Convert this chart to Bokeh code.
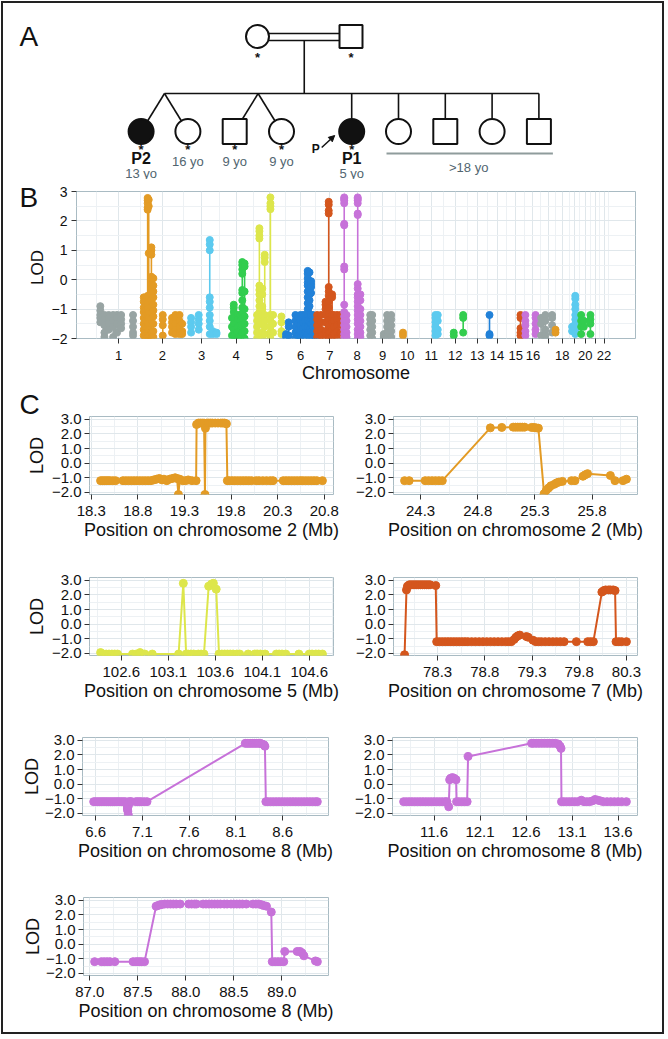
import numpy as np
from bokeh.plotting import figure
from bokeh.models import Range1d, FixedTicker, Arrow, NormalHead
from bokeh.layouts import column, row
from bokeh.embed import file_html
from bokeh.resources import INLINE
from bokeh.core.properties import value

FONT = "Liberation Sans"
INK = "#111111"
AGE_INK = "#51656f"
GRID_MAJOR = "#e0e7eb"
GRID_MINOR = "#edf1f4"
FRAME = "#a9bbc3"

# ---------------- Panel A: pedigree ----------------
parent_sex = ["F", "M"]
parent_genotyped = [1, 1]
child_sex = ["F", "F", "M", "F", "F", "F", "M", "F", "M"]
child_affected = [1, 0, 0, 0, 1, 0, 0, 0, 0]
child_genotyped = [1, 1, 1, 1, 1, 0, 0, 0, 0]
child_id = ["P2", "", "", "", "P1", "", "", "", ""]
child_age = ["13 yo", "16 yo", "9 yo", "9 yo", "5 yo", "", "", "", ""]
child_slot = [0, 1, 2, 3, 4.5, 5.5, 6.5, 7.5, 8.5]
twin_pairs = [(0, 1), (2, 3)]
proband = 4
adult_children = [5, 6, 7, 8]
adult_label = ">18 yo"

# ---------------- Panel B: genome-wide LOD ----------------
chrom_len_mb = [249.25, 243.2, 198.0, 191.15, 180.9, 171.1, 159.1, 146.4, 141.2, 135.5, 135.0,
                133.85, 115.2, 107.35, 102.5, 90.35, 81.2, 78.1, 59.1, 63.0, 48.1, 51.3]
chrom_tick_labels = ["1", "2", "3", "4", "5", "6", "7", "8", "9", "10", "11", "12", "13", "14",
                     "15", "16", "", "18", "", "20", "", "22"]
chrom_palette = ["#98a4a3", "#e39b25", "#5ccaef", "#32cd4f", "#dde64b", "#2181d8", "#d4561d", "#c772d9"]

scan_chr1 = [(22, [-0.9, -1.05, -1.2, -1.3, -1.45]), (45, [-1.2, -1.35, -1.55, -1.8, -1.95]),
             (69, [-1.2, -1.3, -1.5, -1.7]), (94, [-1.2, -1.4, -1.6, -1.95]),
             (116, [-1.2, -1.3, -1.5, -1.8]), (139, [-1.2, -1.35, -1.5, -1.65]),
             (206, [-1.2, -1.4, -1.6, -1.8, -1.9])]
scan_chr2 = [(17, [-0.6, -0.75, -0.95, -1.1, -1.3, -1.5, -1.7, -1.9]),
             (28, [-0.9, -1.05, -1.2, -1.4, -1.6, -1.8, -2.0]),
             (39, [2.78, 2.7, 2.6, 2.45, 2.38, -0.55, -0.8, -1.0, -1.2, -1.4, -1.6, -1.8, -2.0]),
             (45, [2.72, 2.5, 0.9, -1.1, -1.3, -1.5, -1.7, -1.9]),
             (60, [1.1, 1.0, 0.85, 0.1, 0.0, -0.15, -0.3, -0.5, -0.7, -0.9, -1.1, -1.3, -1.5, -1.8, -2.0]),
             (71, [0.05, -0.2, -0.4, -0.6, -0.85, -1.05, -1.25, -1.5, -1.75, -1.95]),
             (124, [-1.2, -1.35, -1.55, -1.9]), (176, [-1.3, -1.45, -1.6, -1.8]),
             (195, [-1.2, -1.35, -1.5, -1.7, -1.85]), (218, [-1.2, -1.4, -1.6, -1.85]),
             (233, [-1.5, -1.75, -1.85])]
scan_chr3 = [(40, [-1.3, -1.45, -1.6, -1.8]), (83, [-1.2, -1.35, -1.5, -1.7]),
             (145, [1.35, 1.2, 1.0, -0.6, -0.75, -0.95, -1.2, -1.4, -1.6, -1.85]),
             (162, [-1.75, -1.85]), (183, [-1.8, -1.85])]
scan_chr4 = [(72, [-1.3, -1.6, -1.9]), (82, [-0.85, -0.95, -1.1, -1.3, -1.5, -1.7, -1.9]),
             (104, [-1.2, -1.35, -1.6, -1.8, -2.0]), (119, [-1.2, -1.4, -1.55, -1.75, -1.95]),
             (130, [0.6, 0.5, 0.35, 0.2, -0.35, -0.45, -0.7, -0.95, -1.15, -1.3, -1.55, -1.8]),
             (143, [0.55, 0.45, -0.4, -1.0, -1.25, -1.5, -1.75, -2.0])]
scan_chr5 = [(22, [-1.2, -1.4, -1.6, -1.8, -2.0]),
             (35, [1.75, 1.65, 1.5, 1.4, -0.2, -0.35, -0.5, -0.7, -0.9, -1.1, -1.3]),
             (51, [-0.3, -0.5, -0.9, -1.0, -1.2, -1.5, -1.8, -2.0]),
             (65, [0.85, 0.75, 0.6, -1.2, -1.4, -1.6, -1.85]),
             (97, [2.8, 2.6, 2.5, 2.4, -1.2, -1.4, -1.6, -1.8, -2.0]),
             (112, [-1.2, -1.5, -1.8]), (159, [-1.25, -1.45, -1.75, -1.85])]
scan_chr6 = [(4, [-1.85, -1.95]), (19, [-1.45, -1.6, -1.9]), (57, [-1.2, -1.4, -1.6, -1.8, -2.0]),
             (72, [-1.25, -1.5, -1.7, -1.9]), (85, [-1.2, -1.35, -1.55, -1.75, -1.95]),
             (100, [-1.2, -1.45, -1.65, -1.85]), (113, [-1.2, -1.4, -1.6, -1.8, -2.0]),
             (126, [0.3, 0.2, 0.05, -0.1, -0.2, -0.4, -0.6, -0.8, -1.0, -1.2, -1.4, -1.6, -1.85]),
             (136, [0.25, -0.05, -0.15, -0.3, -0.5, -0.7, -0.9, -1.2, -1.45, -1.7, -1.95]),
             (145, [-0.05, -0.15, -0.25, -0.45, -1.2, -1.5, -1.75]),
             (156, [-1.2, -1.4, -1.6, -1.8, -2.0]), (168, [-1.25, -1.5, -1.75, -1.95])]
scan_chr7 = [(8, [-1.2, -1.35, -1.55, -1.75, -1.95]), (30, [-1.2, -1.45, -1.7, -1.9]),
             (55, [-0.75, -0.85, -1.0, -1.2, -1.45, -1.75, -2.0]),
             (73, [2.65, 2.55, 2.35, 2.25, -0.25, -0.4, -0.55, -0.75, -0.95, -1.15, -1.35, -1.55, -1.8, -2.0]),
             (92, [-0.5, -0.6, -1.2, -1.45, -1.7, -1.95]), (101, [-1.2, -1.4, -1.6, -1.85]),
             (120, [-1.2, -1.35, -1.55, -1.75, -2.0]), (139, [-1.2, -1.5, -1.8])]
scan_chr8 = [(1, [2.8, 2.75, 2.7, 2.6, 1.9, 1.85, 0.45, 0.35, -0.85, -1.1, -1.25, -1.4, -1.55, -1.7, -1.85, -2.0]),
             (14, [-1.2, -1.4, -1.6, -1.8, -1.95]),
             (77, [2.8, 2.75, 2.7, 2.6, 2.25, 2.2, -0.15, -0.3, -0.5, -0.6, -0.75, -0.9, -1.05, -1.2, -1.35, -1.5, -1.7, -1.85, -2.0]),
             (92, [-0.5, -0.7, -1.0, -1.2, -1.4, -1.6, -1.8, -1.95])]
scan_chr9 = [(1, [-1.2, -1.35, -1.5, -1.7, -1.9]), (12, [-1.2, -1.4, -1.6, -1.8, -2.0]),
             (77, [-1.85, -1.95]), (96, [-1.2, -1.4, -1.6, -1.8, -1.95]),
             (119, [-1.2, -1.35, -1.55, -1.75, -1.95])]
scan_chr10 = [(44, [-1.8, -1.9])]
scan_chr11 = [(91, [-1.2, -1.3, -1.45, -1.6, -1.75, -1.9]), (104, [-1.2, -1.4, -1.7, -1.85])]
scan_chr12 = [(59, [-1.8, -1.9]), (112, [-1.2, -1.3, -1.8])]
scan_chr13 = []
scan_chr14 = [(11, [-1.2, -1.85, -1.9])]
scan_chr15 = [(78, [-1.2, -1.3, -1.65, -1.8, -1.9])]
scan_chr16 = [(3, [-1.2, -1.4, -1.55, -1.75, -1.9]), (60, [-1.2, -1.3, -1.5, -1.7, -1.85])]
scan_chr17 = [(1, [-1.3, -1.5, -1.9]), (25, [-1.2, -1.4, -1.7, -1.9]), (63, [-1.2, -1.3, -1.55, -1.8])]
scan_chr18 = [(1, [-1.7, -1.8])]
scan_chr19 = [(16, [-1.6, -1.75]), (34, [-0.55, -0.65, -0.85, -1.0, -1.2, -1.35, -1.5, -1.7, -1.85])]
scan_chr20 = [(8, [-1.2, -1.4, -1.6, -1.85]), (23, [-1.4, -1.6]), (60, [-1.2, -1.35, -1.5, -1.85])]
scan_chr21 = []
scan_chr22 = []
genome_scan = [scan_chr1, scan_chr2, scan_chr3, scan_chr4, scan_chr5, scan_chr6, scan_chr7, scan_chr8,
               scan_chr9, scan_chr10, scan_chr11, scan_chr12, scan_chr13, scan_chr14, scan_chr15,
               scan_chr16, scan_chr17, scan_chr18, scan_chr19, scan_chr20, scan_chr21, scan_chr22]

# ---------------- Panel C: regional LOD ----------------
lod_ticks = [-2, -1, 0, 1, 2, 3]

c1_chrom, c1_ticks = 2, [18.3, 18.8, 19.3, 19.8, 20.3, 20.8]
c1_pts = [(18.40, -1.2), (18.42, -1.2), (18.44, -1.2), (18.46, -1.2), (18.48, -1.2), (18.50, -1.2),
          (18.53, -1.2), (18.56, -1.2), (18.64, -1.2), (18.67, -1.2), (18.70, -1.2), (18.73, -1.2),
          (18.76, -1.2), (18.79, -1.2), (18.82, -1.2), (18.85, -1.2), (18.88, -1.2), (18.91, -1.2),
          (18.94, -1.2), (18.97, -1.15), (19.00, -1.1), (19.03, -1.05), (19.06, -1.15), (19.08, -1.1),
          (19.11, -1.2), (19.14, -1.1), (19.17, -1.05), (19.20, -1.0), (19.22, -1.05), (19.235, -2.15),
          (19.25, -1.1), (19.28, -1.2), (19.31, -1.2), (19.34, -1.15), (19.38, -1.2), (19.425, -1.2),
          (19.43, 2.65), (19.45, 2.75), (19.47, 2.75), (19.49, 2.75), (19.51, 2.75), (19.52, -2.15),
          (19.525, 2.4), (19.54, 2.75), (19.56, 2.75), (19.58, 2.75), (19.60, 2.75), (19.63, 2.75),
          (19.66, 2.75), (19.69, 2.75), (19.71, 2.75), (19.73, 2.75), (19.75, 2.7), (19.76, -1.2),
          (19.78, -1.2), (19.81, -1.2), (19.84, -1.2), (19.87, -1.2), (19.90, -1.2), (19.93, -1.2),
          (19.96, -1.2), (19.99, -1.2), (20.02, -1.2), (20.07, -1.2), (20.10, -1.2), (20.14, -1.2),
          (20.18, -1.2), (20.22, -1.2), (20.25, -1.2), (20.36, -1.2), (20.39, -1.2), (20.42, -1.2),
          (20.45, -1.2), (20.48, -1.2), (20.51, -1.2), (20.54, -1.2), (20.57, -1.2), (20.60, -1.2),
          (20.63, -1.2), (20.66, -1.2), (20.69, -1.2), (20.72, -1.2), (20.78, -1.2)]

c2_chrom, c2_ticks = 2, [24.3, 24.8, 25.3, 25.8]
c2_pts = [(24.16, -1.2), (24.20, -1.2), (24.34, -1.2), (24.37, -1.2), (24.40, -1.2), (24.43, -1.2),
          (24.46, -1.2), (24.49, -1.2), (24.91, 2.42), (25.01, 2.45), (25.11, 2.47), (25.13, 2.47),
          (25.15, 2.47), (25.17, 2.47), (25.19, 2.47), (25.21, 2.47), (25.27, 2.45), (25.29, 2.45),
          (25.31, 2.42), (25.33, 2.4), (25.38, -2.1), (25.40, -1.85), (25.42, -1.7), (25.44, -1.55),
          (25.47, -1.45), (25.49, -1.35), (25.51, -1.3), (25.54, -1.25), (25.62, -1.2), (25.65, -1.2),
          (25.72, -0.9), (25.74, -0.8), (25.76, -0.72), (25.96, -0.85), (26.00, -1.2), (26.07, -1.2),
          (26.10, -1.1)]

c3_chrom, c3_ticks = 5, [102.6, 103.1, 103.6, 104.1, 104.6]
c3_pts = [(102.38, -1.95), (102.41, -2.05), (102.44, -2.05), (102.47, -2.05), (102.50, -2.05),
          (102.53, -2.05), (102.56, -2.05), (102.72, -2.05), (102.76, -2.05), (102.80, -1.95),
          (102.85, -2.05), (102.93, -2.05), (103.21, -2.05), (103.26, 2.8), (103.29, -2.05),
          (103.31, -2.05), (103.34, -2.05), (103.37, -2.05), (103.42, -2.05), (103.45, -2.05),
          (103.48, -2.05), (103.53, 2.6), (103.56, 2.75), (103.58, 2.8), (103.61, 2.4), (103.64, -2.05),
          (103.67, -2.05), (103.70, -2.05), (103.73, -2.05), (103.76, -2.05), (103.79, -2.05),
          (103.83, -2.05), (103.86, -2.05), (103.95, -2.05), (104.02, -2.05), (104.05, -2.05),
          (104.08, -2.05), (104.13, -2.05), (104.25, -2.05), (104.28, -2.05), (104.31, -2.05),
          (104.35, -2.05), (104.49, -2.05), (104.60, -2.05), (104.63, -2.05), (104.67, -2.05),
          (104.70, -2.05), (104.74, -2.05)]

c4_chrom, c4_ticks = 7, [78.3, 78.8, 79.3, 79.8, 80.3]
c4_pts = [(77.95, -2.1), (77.97, 2.35), (77.98, 2.6), (78.00, 2.7), (78.02, 2.7), (78.04, 2.7),
          (78.06, 2.7), (78.08, 2.7), (78.10, 2.7), (78.12, 2.7), (78.14, 2.7), (78.16, 2.7),
          (78.18, 2.7), (78.20, 2.7), (78.22, 2.7), (78.28, 2.65), (78.29, -1.2), (78.32, -1.2),
          (78.35, -1.2), (78.38, -1.2), (78.41, -1.2), (78.44, -1.2), (78.47, -1.2), (78.50, -1.2),
          (78.53, -1.2), (78.56, -1.2), (78.59, -1.2), (78.62, -1.2), (78.66, -1.2), (78.70, -1.2),
          (78.74, -1.2), (78.78, -1.2), (78.82, -1.2), (78.86, -1.2), (78.90, -1.2), (78.94, -1.2),
          (78.98, -1.2), (79.02, -1.2), (79.05, -1.2), (79.08, -1.2), (79.11, -1.05), (79.13, -0.9),
          (79.15, -0.8), (79.17, -0.75), (79.24, -0.85), (79.26, -0.9), (79.31, -1.1), (79.34, -1.2),
          (79.37, -1.2), (79.40, -1.2), (79.44, -1.2), (79.48, -1.2), (79.52, -1.2), (79.56, -1.2),
          (79.60, -1.2), (79.64, -1.2), (79.77, -1.2), (79.89, -1.2), (79.92, -1.2), (79.95, -1.2),
          (80.04, 2.2), (80.06, 2.3), (80.08, 2.35), (80.11, 2.35), (80.13, 2.35), (80.16, 2.35),
          (80.18, 2.3), (80.19, -1.2), (80.22, -1.2), (80.25, -1.2), (80.30, -1.2)]

c5_chrom, c5_ticks = 8, [6.6, 7.1, 7.6, 8.1, 8.6]
c5_pts = [(6.58, -1.2), (6.60, -1.2), (6.62, -1.2), (6.64, -1.2), (6.66, -1.2), (6.68, -1.2),
          (6.70, -1.2), (6.72, -1.2), (6.74, -1.2), (6.76, -1.2), (6.78, -1.2), (6.80, -1.2),
          (6.82, -1.2), (6.84, -1.2), (6.86, -1.2), (6.88, -1.2), (6.90, -1.2), (6.92, -1.2),
          (6.94, -1.4), (6.94, -1.55), (6.94, -1.7), (6.945, -1.85), (6.95, -2.1), (6.95, -1.5),
          (6.96, -1.2), (6.98, -1.2), (7.03, -1.2), (7.05, -1.2), (7.07, -1.2), (7.09, -1.2),
          (7.12, -1.2), (7.15, -1.2), (8.20, 2.8), (8.22, 2.8), (8.24, 2.8), (8.26, 2.8), (8.28, 2.8),
          (8.30, 2.8), (8.32, 2.8), (8.34, 2.8), (8.36, 2.8), (8.38, 2.75), (8.40, 2.7), (8.41, 2.6),
          (8.42, -1.2), (8.44, -1.2), (8.47, -1.2), (8.50, -1.2), (8.53, -1.2), (8.56, -1.2),
          (8.59, -1.2), (8.62, -1.2), (8.65, -1.2), (8.68, -1.2), (8.71, -1.2), (8.74, -1.2),
          (8.77, -1.2), (8.80, -1.2), (8.83, -1.2), (8.86, -1.2), (8.89, -1.2), (8.92, -1.2),
          (8.95, -1.2), (8.97, -1.2)]

c6_chrom, c6_ticks = 8, [11.6, 12.1, 12.6, 13.1, 13.6]
c6_pts = [(11.27, -1.2), (11.30, -1.2), (11.33, -1.2), (11.36, -1.2), (11.39, -1.2), (11.42, -1.2),
          (11.45, -1.2), (11.48, -1.2), (11.51, -1.2), (11.54, -1.2), (11.57, -1.2), (11.60, -1.2),
          (11.63, -1.2), (11.66, -1.2), (11.69, -1.2), (11.72, -1.2), (11.74, -1.2), (11.76, -1.55),
          (11.77, 0.3), (11.78, 0.4), (11.80, 0.45), (11.82, 0.4), (11.84, 0.3), (11.845, -1.2),
          (11.87, -1.2), (11.90, -1.2), (11.93, -1.2), (11.96, -1.2), (11.97, 1.9), (12.66, 2.8),
          (12.68, 2.8), (12.71, 2.8), (12.74, 2.8), (12.77, 2.8), (12.80, 2.8), (12.83, 2.8),
          (12.86, 2.8), (12.89, 2.8), (12.92, 2.8), (12.95, 2.75), (12.97, 2.6), (12.98, 2.45),
          (12.985, -1.2), (13.01, -1.2), (13.04, -1.2), (13.07, -1.2), (13.10, -1.2), (13.13, -1.2),
          (13.16, -1.2), (13.20, -1.1), (13.23, -1.2), (13.26, -1.2), (13.29, -1.2), (13.32, -1.15),
          (13.35, -1.05), (13.38, -1.1), (13.41, -1.15), (13.44, -1.2), (13.48, -1.2), (13.52, -1.2),
          (13.56, -1.2), (13.60, -1.2), (13.64, -1.2), (13.69, -1.2)]

c7_chrom, c7_ticks = 8, [87.0, 87.5, 88.0, 88.5, 89.0]
c7_pts = [(87.05, -1.2), (87.12, -1.2), (87.15, -1.2), (87.18, -1.2), (87.21, -1.2), (87.26, -1.2),
          (87.45, -1.2), (87.48, -1.2), (87.50, -1.2), (87.52, -1.2), (87.54, -1.2), (87.57, -1.2),
          (87.69, 2.6), (87.71, 2.65), (87.73, 2.7), (87.75, 2.72), (87.78, 2.75), (87.81, 2.75),
          (87.84, 2.75), (87.87, 2.75), (87.90, 2.75), (87.94, 2.75), (88.03, 2.75), (88.06, 2.75),
          (88.09, 2.75), (88.11, 2.75), (88.18, 2.75), (88.21, 2.75), (88.24, 2.75), (88.27, 2.75),
          (88.30, 2.75), (88.33, 2.75), (88.36, 2.75), (88.40, 2.75), (88.43, 2.75), (88.47, 2.75),
          (88.50, 2.75), (88.53, 2.75), (88.56, 2.75), (88.59, 2.75), (88.63, 2.75), (88.70, 2.75),
          (88.73, 2.75), (88.76, 2.75), (88.79, 2.7), (88.81, 2.65), (88.84, 2.6), (88.89, 2.2),
          (88.90, -1.2), (88.93, -1.2), (88.96, -1.2), (88.99, -1.2), (89.02, -1.2), (89.03, -0.5),
          (89.16, -0.5), (89.19, -0.5), (89.21, -0.6), (89.23, -0.8), (89.35, -1.15), (89.37, -1.2)]

C_COLORS = {"orange": chrom_palette[1], "yellow": chrom_palette[4], "rust": chrom_palette[6],
            "purple": chrom_palette[7]}


def neg(s):
    return s.replace("-", "\u2212")


def style_axes(p, tick_fs, label_fs):
    for ax in p.axis:
        ax.axis_line_color = None
        ax.major_tick_line_color = "#333333"
        ax.major_tick_line_width = 1
        ax.major_tick_out = 5
        ax.major_tick_in = 0
        ax.minor_tick_line_color = None
        ax.major_label_text_font = FONT
        ax.major_label_text_font_size = tick_fs
        ax.major_label_text_color = INK
        ax.axis_label_text_font = FONT
        ax.axis_label_text_font_size = label_fs
        ax.axis_label_text_font_style = "normal"
        ax.axis_label_text_color = INK
    p.xgrid.grid_line_color = GRID_MAJOR
    p.ygrid.grid_line_color = GRID_MAJOR
    p.xgrid.minor_grid_line_color = GRID_MINOR
    p.ygrid.minor_grid_line_color = GRID_MINOR
    p.outline_line_color = FRAME
    p.outline_line_width = 1


def strip(width, height, top, letter, letter_x, letter_base, lod_x, lod_y, lod_fs):
    """Blank margin canvas (pixel coordinates) holding a panel letter and the rotated LOD title."""
    s = figure(width=width, height=height, x_range=Range1d(3, 3 + width), y_range=Range1d(0, height),
               toolbar_location=None, output_backend="svg", min_border=0,
               x_axis_location=None, y_axis_location=None)
    s.grid.visible = False
    s.outline_line_color = None
    s.text(x=[letter_x], y=[top + height - letter_base], text=[letter], text_font=value(FONT),
           text_font_size="28px", text_align="left", text_baseline="alphabetic", text_color=INK)
    s.text(x=[lod_x], y=[top + height - lod_y], text=["LOD"], angle=np.pi / 2, text_font=value(FONT),
           text_font_size=lod_fs, text_align="center", text_baseline="middle", text_color=INK)
    return column(s)


W_TOTAL = 659
W_LEFT = 337
W_RIGHT = W_TOTAL - W_LEFT
STRIP_W = 44
A_BOTTOM = 179

# ---------------- build panel A ----------------
SIB_X0, SIB_DX = 140.6, 46.8
PAR_Y, SIB_Y, CHILD_Y = 36, 93, 131
pa = figure(width=W_TOTAL, height=A_BOTTOM - 3, x_range=Range1d(3, 3 + W_TOTAL),
            y_range=Range1d(A_BOTTOM, 3), toolbar_location=None, output_backend="svg", min_border=0,
            x_axis_location=None, y_axis_location=None)
pa.grid.visible = False
pa.outline_line_color = None

par_x = [257.0, 350.5]
mate_mid = sum(par_x) / 2
pa.multi_line(xs=[[par_x[0] + 11.5, par_x[1] - 11.5], [par_x[0] + 11.5, par_x[1] - 11.5]],
              ys=[[PAR_Y - 3, PAR_Y - 3], [PAR_Y + 4, PAR_Y + 4]], line_color=INK, line_width=1.6)
pa.line(x=[mate_mid, mate_mid], y=[PAR_Y + 4, SIB_Y], line_color=INK, line_width=1.6)

cx = [SIB_X0 + SIB_DX * s for s in child_slot]
drop_xs, drop_ys = [], []
twinned = set()
tops = []
for a, b in twin_pairs:
    apex = (cx[a] + cx[b]) / 2
    tops.append(apex)
    for k in (a, b):
        drop_xs.append([apex, cx[k]])
        drop_ys.append([SIB_Y, CHILD_Y])
        twinned.add(k)
for k in range(len(cx)):
    if k not in twinned:
        tops.append(cx[k])
        drop_xs.append([cx[k], cx[k]])
        drop_ys.append([SIB_Y, CHILD_Y])
pa.line(x=[min(tops), max(tops)], y=[SIB_Y, SIB_Y], line_color=INK, line_width=1.6)
pa.multi_line(xs=drop_xs, ys=drop_ys, line_color=INK, line_width=1.6)

for x, s in zip(par_x, parent_sex):
    if s == "F":
        pa.ellipse(x=[x], y=[PAR_Y], width=23, height=23, fill_color="white", line_color=INK, line_width=2)
    else:
        pa.rect(x=[x], y=[PAR_Y], width=23, height=23, fill_color="white", line_color=INK, line_width=2)
pa.text(x=[x for x, g in zip(par_x, parent_genotyped) if g], y=[57] * sum(parent_genotyped),
        text=["*"] * sum(parent_genotyped), text_font=value(FONT), text_font_style="bold",
        text_font_size="13px", text_align="center", text_baseline="alphabetic", text_color=INK)

for k, (x, s, aff) in enumerate(zip(cx, child_sex, child_affected)):
    fill = INK if aff else "white"
    if s == "F":
        pa.ellipse(x=[x], y=[CHILD_Y], width=25, height=25, fill_color=fill, line_color=INK, line_width=2)
    else:
        pa.rect(x=[x], y=[CHILD_Y], width=24, height=25, fill_color=fill, line_color=INK, line_width=2)

gx = [x for x, g in zip(cx, child_genotyped) if g]
pa.text(x=gx, y=[148.5] * len(gx), text=["*"] * len(gx), text_font=value(FONT), text_font_style="bold",
        text_font_size="13px", text_align="center", text_baseline="alphabetic", text_color=INK)
idx = [k for k in range(len(cx)) if child_id[k]]
pa.text(x=[cx[k] for k in idx], y=[158] * len(idx), text=[child_id[k] for k in idx],
        text_font=value(FONT), text_font_style="bold", text_font_size="16px", text_align="center",
        text_baseline="middle", text_color=INK)
pa.text(x=[cx[k] for k in idx], y=[172.5] * len(idx), text=[child_age[k] for k in idx],
        text_font=value(FONT), text_font_size="13px", text_align="center", text_baseline="middle",
        text_color=AGE_INK)
oth = [k for k in range(len(cx)) if child_age[k] and not child_id[k]]
pa.text(x=[cx[k] for k in oth], y=[161] * len(oth), text=[child_age[k] for k in oth],
        text_font=value(FONT), text_font_size="13px", text_align="center", text_baseline="middle",
        text_color=AGE_INK)
ax0, ax1 = cx[adult_children[0]] - 12, cx[adult_children[-1]] + 14
pa.line(x=[ax0, ax1], y=[153, 153], line_color="#8f9c9c", line_width=2)
pa.text(x=[sum(cx[k] for k in adult_children) / len(adult_children)], y=[167], text=[adult_label],
        text_font=value(FONT), text_font_size="13px", text_align="center", text_baseline="middle",
        text_color=AGE_INK)
px_ = cx[proband]
pa.text(x=[px_ - 36], y=[148], text=["P"], text_font=value(FONT), text_font_style="bold",
        text_font_size="12px", text_align="center", text_baseline="alphabetic", text_color=INK)
pa.add_layout(Arrow(end=NormalHead(size=6, fill_color=INK, line_color=INK), x_start=px_ - 30,
                    y_start=147, x_end=px_ - 17, y_end=135, line_color=INK, line_width=1.5))
pa.text(x=[19], y=[36], text=["A"], text_font=value(FONT), text_font_size="28px",
        text_align="left", text_baseline="alphabetic", text_color=INK)

# ---------------- build panel B ----------------
chrom_start = np.concatenate([[0.0], np.cumsum(chrom_len_mb)[:-1]])
chrom_mid = chrom_start + np.array(chrom_len_mb) / 2.0
genome_total = float(np.sum(chrom_len_mb))

B_X0, B_X1 = -112.0, 3032.0
B_BL, B_BR = 73 - STRIP_W, 27
B_H = 385 - A_BOTTOM
pb = figure(width=W_TOTAL - STRIP_W, height=B_H, x_range=Range1d(B_X0, B_X1), y_range=Range1d(-2.0, 3.0),
            toolbar_location=None, output_backend="svg",
            min_border_left=B_BL, min_border_right=B_BR, min_border_top=191 - A_BOTTOM, min_border_bottom=42)
for ci, scan in enumerate(genome_scan):
    color = chrom_palette[ci % len(chrom_palette)]
    sx, sy, px_all, py_all = [], [], [], []
    for mb, lods in scan:
        gx_ = chrom_start[ci] + mb
        sx.append([gx_, gx_])
        sy.append([min(lods), max(lods)])
        px_all += [gx_] * len(lods)
        py_all += list(lods)
    if sx:
        pb.multi_line(xs=sx, ys=sy, line_color=color, line_width=1.6)
        pb.scatter(x=px_all, y=py_all, size=7, fill_color=color, line_color=color)
style_axes(pb, "13px", "17px")
pb.xaxis.ticker = FixedTicker(ticks=[float(m) for m in chrom_mid],
                              minor_ticks=[float(s) for s in chrom_start] + [genome_total])
pb.xaxis.major_label_overrides = {float(m): lab for m, lab in zip(chrom_mid, chrom_tick_labels)}
pb.xaxis.axis_label = "Chromosome"
pb.xaxis.axis_label_text_font_size = "18px"
pb.xaxis.major_label_standoff = 7
pb.xaxis.axis_label_standoff = 0
pb.yaxis.ticker = FixedTicker(ticks=lod_ticks, minor_ticks=[t + 0.5 for t in lod_ticks[:-1]])
pb.yaxis.major_label_overrides = {t: neg(str(t)) for t in lod_ticks}
pb.yaxis.major_label_text_font_size = "14px"
pb.yaxis.major_label_standoff = 4
sb = strip(STRIP_W, B_H, A_BOTTOM, "B", 19, 197, 36.5, 267, "17px")


# ---------------- build panel C ----------------
def c_panel(pts, color, ticks, chrom, width, height, bl, br, bt, bb, ylabel, ylab_standoff):
    xs = [a for a, b in pts]
    ys = [b for a, b in pts]
    lo, hi = min(xs), max(xs)
    pad = 0.05 * (hi - lo)
    p = figure(width=width, height=height, x_range=Range1d(lo - pad, hi + pad),
               y_range=Range1d(-2.15, 3.2), toolbar_location=None, output_backend="svg",
               min_border_left=bl, min_border_right=br, min_border_top=bt, min_border_bottom=bb)
    p.line(xs, ys, line_color=color, line_width=2)
    p.scatter(xs, ys, size=8, fill_color=color, line_color=color)
    style_axes(p, "15px", "18px")
    p.xaxis.ticker = FixedTicker(ticks=ticks, minor_ticks=[t - 0.25 for t in ticks] + [ticks[-1] + 0.25])
    p.xaxis.major_label_overrides = {t: f"{t:.1f}" for t in ticks}
    p.xaxis.axis_label = f"Position on chromosome {chrom} (Mb)"
    p.xaxis.major_label_standoff = 6
    p.xaxis.axis_label_standoff = 1
    p.yaxis.ticker = FixedTicker(ticks=lod_ticks, minor_ticks=[t + 0.5 for t in lod_ticks[:-1]])
    p.yaxis.major_label_overrides = {t: neg(f"{t:.1f}") for t in lod_ticks}
    p.yaxis.major_label_standoff = 3
    if ylabel:
        p.yaxis.axis_label = "LOD"
        p.yaxis.axis_label_standoff = ylab_standoff
    return p


c1 = c_panel(c1_pts, C_COLORS["orange"], c1_ticks, c1_chrom, W_LEFT - STRIP_W, 160, 86 - STRIP_W, 7, 31, 51,
             False, 0)
sc = strip(STRIP_W, 160, 385, "C", 19, 404, 36, 455, "18px")
c2 = c_panel(c2_pts, C_COLORS["orange"], c2_ticks, c2_chrom, W_RIGHT, 160, 53, 25, 31, 51, False, 0)
c3 = c_panel(c3_pts, C_COLORS["yellow"], c3_ticks, c3_chrom, W_LEFT, 161, 86, 7, 32, 51, True, 2)
c4 = c_panel(c4_pts, C_COLORS["rust"], c4_ticks, c4_chrom, W_RIGHT, 161, 53, 25, 32, 51, False, 0)
c5 = c_panel(c5_pts, C_COLORS["purple"], c5_ticks, c5_chrom, W_LEFT, 160, 79, 12, 31, 51, True, 0)
c6 = c_panel(c6_pts, C_COLORS["purple"], c6_ticks, c6_chrom, W_RIGHT, 160, 52, 25, 31, 51, False, 0)
c7 = c_panel(c7_pts, C_COLORS["purple"], c7_ticks, c7_chrom, W_LEFT, 166, 80, 12, 31, 57, True, 0)

layout = column(row(pa), row(sb, column(pb)), row(sc, column(c1), column(c2)), row(c3, c4), row(c5, c6),
                row(c7), styles={"border": "2px solid #222222", "margin": "1px"})

open("out.html", "w").write(file_html(layout, INLINE))
